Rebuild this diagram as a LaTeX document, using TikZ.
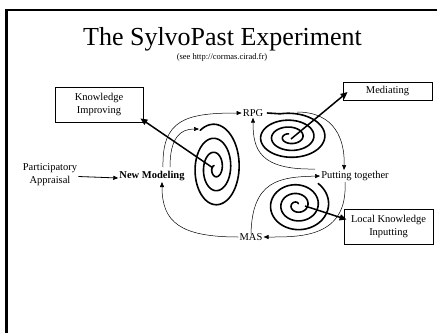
\documentclass[tikz,border=0pt]{standalone}
\usepackage{fontspec}
\setmainfont{Liberation Serif}
\usetikzlibrary{arrows.meta}
\begin{document}
\begin{tikzpicture}[x=1pt,y=-1pt,
  box/.style={draw, line width=0.8pt, align=center, inner sep=1pt, font=\fontsize{10.5}{12.5}\selectfont},
  lbl/.style={font=\fontsize{10.5}{12.5}\selectfont, inner sep=1pt},
  thinarrow/.style={line width=0.5pt, -{Triangle[length=5pt,width=4pt]}},
  thickarrow/.style={line width=1.5pt, -{Triangle[length=7pt,width=6pt]}},
  spiral/.style={line width=1.6pt, line cap=round, line join=round}]
\useasboundingbox (0,0) rectangle (437,333);
\draw[line width=2.5pt] (437,10) -- (6.5,10) -- (6.5,333);

\node[font=\fontsize{26}{28}\selectfont, anchor=base, inner sep=0pt] (title) at (222.5,45) {The SylvoPast Experiment};
\node[font=\fontsize{8.5}{9}\selectfont, inner sep=0pt] (sub) at (222,57) {(see http://cormas.cirad.fr)};

\node[box, minimum width=88pt, minimum height=35pt] (ki) at (99,104.5) {Knowledge\\Improving};
\node[box, minimum width=89pt, minimum height=18pt] (med) at (387.5,91) {Mediating};
\node[box, minimum width=89pt, minimum height=35pt] (lki) at (388.5,226.5) {Local Knowledge\\Inputting};

\node[lbl, align=center] (pa) at (50,174.5) {Participatory\\Appraisal};
\node[lbl, font=\fontsize{10.5}{12.5}\selectfont\bfseries] (nm) at (152,176) {New Modeling};
\node[lbl] (rpg) at (253,113) {RPG};
\node[lbl] (pt) at (355,176) {Putting together};
\node[lbl] (mas) at (251,237) {MAS};

% spiral centres
\coordinate (c1) at (213,168);
\coordinate (c2) at (291,139);
\coordinate (c3) at (305,206);
\coordinate (s1) at (199,129);

% spirals
\draw[spiral] plot[smooth, samples=240, domain=237:1317, variable=\t]
  ({215+27*(1-(\t-237)/1150)*cos(\t)}, {168+45*(1-(\t-237)/1150)*sin(\t)});
\draw[spiral] ([xshift=3]rpg.east) -- plot[smooth, samples=240, domain=255:1335, variable=\t]
  ({290+38*(1-(\t-255)/1250)*cos(\t)}, {137+24*(1-(\t-255)/1250)*sin(\t)});
\draw[spiral] plot[smooth, samples=240, domain=310:1390, variable=\t]
  ({297+33*(1-(\t-310)/1150)*cos(\t)}, {205+28*(1-(\t-310)/1150)*sin(\t)});

% thick arrows from spiral centres to boxes
\draw[thickarrow] (c1) -- ([shift={(-3,-4)}]ki.south east);
\draw[thickarrow] (c2) -- ([shift={(5,1)}]med.west);
\draw[thickarrow] (c3) -- ([shift={(3,-7)}]lki.west);

% input arrow
\draw[line width=0.8pt, -{Triangle[length=5pt,width=4pt]}] ([yshift=-2]pa.east) -- ([yshift=-2]nm.west);

% thin cycle arrows
\draw[thinarrow] ([shift={(11,-3)}]nm.north) .. controls (162,120) and (185,113) .. (rpg.west);
\draw[thinarrow] ([shift={(18,-3)}]nm.north) .. controls (170,138) and (180,129) .. (s1);
\draw[thinarrow] (297,112) .. controls (335,112) and (345,140) .. ([xshift=-11]pt.north);
\draw[thinarrow] (315,169) .. controls (260,170) and (253,150) .. (rpg.south);
\draw[thinarrow] ([yshift=-2]mas.north) .. controls (252,180) and (280,177) .. (pt.west);
\draw[thinarrow] ([xshift=-10]pt.south) .. controls (348,238) and (300,237) .. (mas.east);
\draw[thinarrow] (mas.west) .. controls (180,237) and (162,222) .. ([xshift=10]nm.south);
\end{tikzpicture}
\end{document}
